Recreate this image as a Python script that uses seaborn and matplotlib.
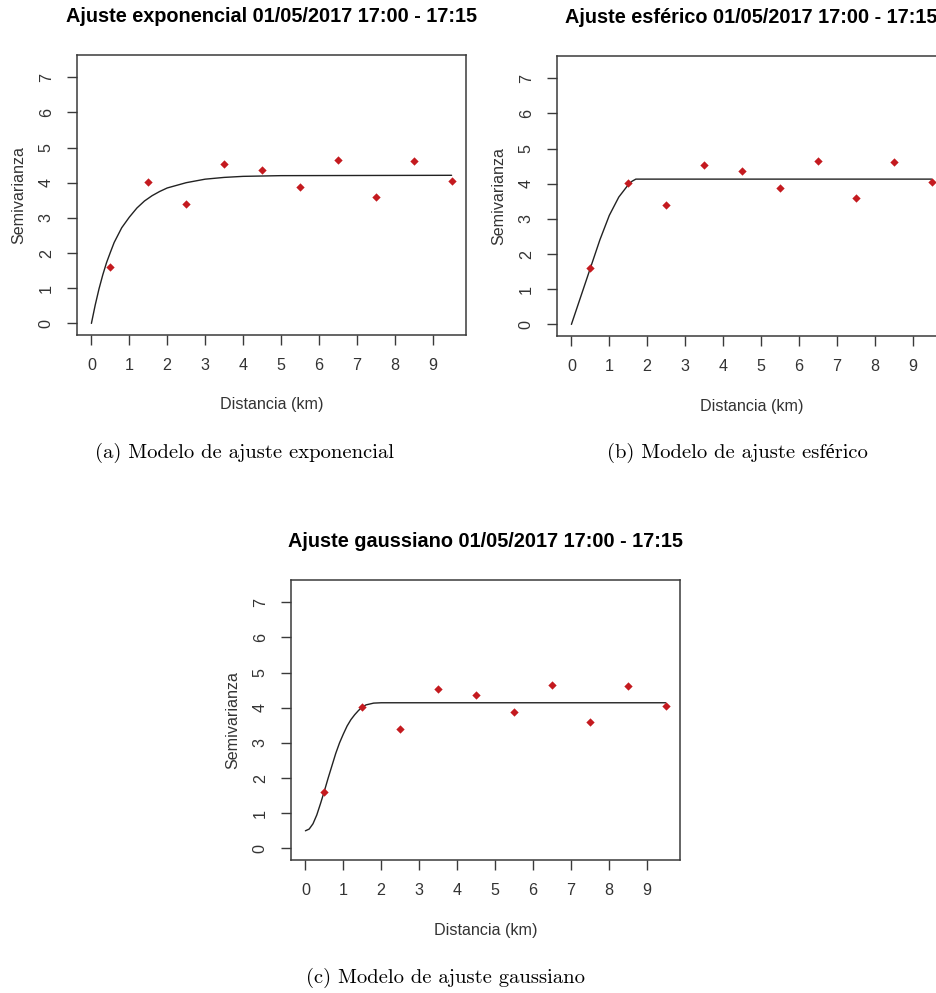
import matplotlib
matplotlib.use("Agg")
import matplotlib.pyplot as plt
import seaborn as sns

# ---- data ----
distance = [0.5, 1.5, 2.5, 3.5, 4.5, 5.5, 6.5, 7.5, 8.5, 9.5]
semivar = [1.61, 4.01, 3.39, 4.53, 4.36, 3.88, 4.64, 3.58, 4.63, 4.06]

exp_x = [0, 0.1, 0.2, 0.3, 0.4, 0.5, 0.6, 0.8, 1.0, 1.2, 1.4, 1.6, 1.8, 2.0, 2.5, 3.0, 3.5, 4.0, 5.0, 9.5]
exp_y = [0, 0.52, 0.98, 1.38, 1.73, 2.02, 2.3, 2.72, 3.02, 3.28, 3.48, 3.63, 3.75, 3.85, 4.0, 4.1, 4.15, 4.18, 4.2, 4.21]

sph_x = [0, 0.25, 0.5, 0.75, 1.0, 1.25, 1.5, 1.6, 1.7, 9.5]
sph_y = [0, 0.8, 1.6, 2.4, 3.1, 3.62, 3.97, 4.07, 4.13, 4.13]

gau_x = [0, 0.1, 0.2, 0.3, 0.4, 0.5, 0.6, 0.7, 0.8, 0.9, 1.0, 1.1, 1.2, 1.3, 1.4, 1.5, 1.6, 1.8, 2.0, 9.5]
gau_y = [0.5, 0.55, 0.7, 0.95, 1.28, 1.63, 2.0, 2.35, 2.7, 3.0, 3.25, 3.48, 3.66, 3.8, 3.92, 4.02, 4.08, 4.13, 4.14, 4.14]

titles = ["Ajuste exponencial 01/05/2017 17:00 - 17:15",
          "Ajuste esférico 01/05/2017 17:00 - 17:15",
          "Ajuste gaussiano 01/05/2017 17:00 - 17:15"]
captions = ["(a) Modelo de ajuste exponencial",
            "(b) Modelo de ajuste esférico",
            "(c) Modelo de ajuste gaussiano"]
xlabel = "Distancia (km)"
ylabel = "Semivarianza"
xticks = [0, 1, 2, 3, 4, 5, 6, 7, 8, 9]
yticks = [0, 1, 2, 3, 4, 5, 6, 7]

# ---- style ----
sns.set_style("white")
plt.rcParams['font.family'] = ['Liberation Sans', 'DejaVu Sans']

W, H = 936, 993
fig = plt.figure(figsize=(W / 100, H / 100), dpi=100)

def px_axes(left, top, width, height):
    return fig.add_axes([left / W, 1 - (top + height) / H, width / W, height / H])

boxes = [(77, 55, 389, 280), (557, 56, 389, 280), (291, 580, 389, 280)]
curves = [(exp_x, exp_y), (sph_x, sph_y), (gau_x, gau_y)]

spine_col = "#3a3a3a"
text_col = "#333333"
pt_col = "#c41a1f"

for (l, t, w, h), (cx, cy), title in zip(boxes, curves, titles):
    ax = px_axes(l, t, w, h)
    sns.lineplot(x=cx, y=cy, ax=ax, color="#222222", linewidth=1.0,
                 estimator=None, sort=False)
    sns.scatterplot(x=distance, y=semivar, ax=ax, marker="D", s=18,
                    color=pt_col, linewidth=0, zorder=3)
    ax.set_xlim(-0.38, 9.88)
    ax.set_ylim(-0.33, 7.63)
    ax.set_xticks(xticks)
    ax.set_yticks(yticks)
    ax.grid(False)
    for sp in ax.spines.values():
        sp.set_visible(True)
        sp.set_color(spine_col)
        sp.set_linewidth(1.1)
    ax.tick_params(axis='both', direction='out', length=7.2, width=1.0,
                   color=spine_col, labelsize=11.6, labelcolor=text_col, pad=9.5,
                   bottom=True, left=True)
    for lab in ax.get_yticklabels():
        lab.set_rotation(90)
        lab.set_va('center')
    ax.set_title(title, fontsize=14.3, fontweight='bold', color='black', pad=23.5)
    ax.set_xlabel(xlabel, fontsize=11.6, color=text_col)
    ax.set_ylabel(ylabel, fontsize=11.6, color=text_col)
    ax.xaxis.set_label_coords(0.5, -70 / h)
    ax.xaxis.label.set_va('center')
    ax.yaxis.set_label_coords(-58 / w, 0.5)
    ax.yaxis.label.set_va('center')
    ax.yaxis.label.set_ha('center')

cap_pos = [(244, 457.7), (737.5, 457.7), (446, 983.3)]
for (x, y), cap in zip(cap_pos, captions):
    fig.text(x / W, 1 - y / H, cap, ha='center', va='baseline', fontsize=14.8,
             family=['cmr10', 'Liberation Serif'], color='black')

fig.savefig("out.png", dpi=100)
